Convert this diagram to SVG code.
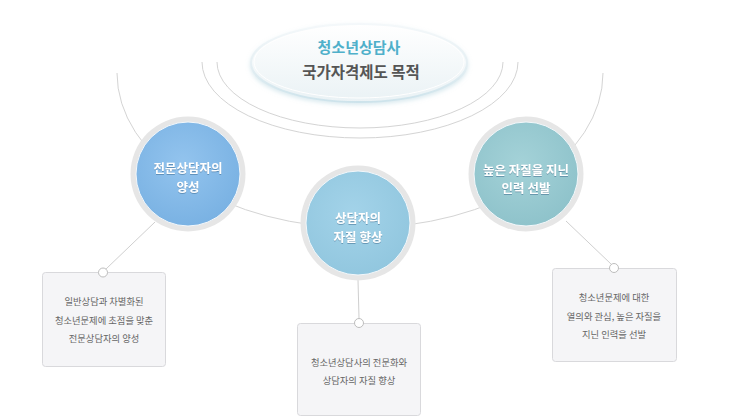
<svg xmlns="http://www.w3.org/2000/svg" width="755" height="417" viewBox="0 0 755 417">
<defs>
<style>
.arc{fill:none;stroke:#d4d4d4;stroke-width:1}
.ln{fill:none;stroke:#cfcfcf;stroke-width:1}
.dot{fill:#fff;stroke:#bdbdbd;stroke-width:1}
.ring{fill:#e6e6e6}
.box{fill:#f5f5f7;stroke:#d9d9dc;stroke-width:1}
.nt{font-family:"Noto Sans CJK KR","Noto Sans",sans-serif;font-size:12.5px;font-weight:bold;fill:#fff;text-anchor:middle;filter:url(#ts)}
.bt{font-family:"Noto Sans CJK KR","Noto Sans",sans-serif;font-size:9.3px;fill:#666;text-anchor:middle}
</style>
<linearGradient id="eg" x1="0" y1="0" x2="0" y2="1">
<stop offset="0" stop-color="#ffffff"/>
<stop offset="1" stop-color="#eaf2f5"/>
</linearGradient>
<linearGradient id="es1" x1="0" y1="0" x2="0" y2="1">
<stop offset="0" stop-color="#f4f8fa"/>
<stop offset="0.5" stop-color="#e6f0f4"/>
<stop offset="1" stop-color="#cde3eb"/>
</linearGradient>
<radialGradient id="g1" cx="0.45" cy="0.4" r="0.6">
<stop offset="0" stop-color="#93c4ee"/>
<stop offset="1" stop-color="#7ab2e3"/>
</radialGradient>
<radialGradient id="g2" cx="0.45" cy="0.4" r="0.6">
<stop offset="0" stop-color="#a3d3e9"/>
<stop offset="1" stop-color="#92c7df"/>
</radialGradient>
<radialGradient id="g3" cx="0.45" cy="0.4" r="0.6">
<stop offset="0" stop-color="#a4d2d8"/>
<stop offset="1" stop-color="#8fc3cb"/>
</radialGradient>
<filter id="ts" x="-10%" y="-30%" width="120%" height="160%">
<feDropShadow dx="0" dy="1" stdDeviation="0.6" flood-color="#2a5a80" flood-opacity="0.45"/>
</filter>
<filter id="es" x="-10%" y="-20%" width="120%" height="150%">
<feDropShadow dx="0" dy="2" stdDeviation="2" flood-color="#b5d5e0" flood-opacity="0.5"/>
</filter>
</defs>

<g id="connectors">
<path class="arc" d="M117,73 A243,155 0 0 0 603,73"/>
<path class="arc" d="M202,62 A158,76 0 0 0 518,62"/>
<path class="arc" d="M217,62 A143,66 0 0 0 503,62"/>
<line class="ln" x1="155" y1="222" x2="106" y2="269"/>
<line class="ln" x1="358" y1="280" x2="359" y2="318"/>
<line class="ln" x1="566" y1="221" x2="611" y2="264"/>
</g>

<g id="title">
<ellipse cx="359" cy="63" rx="108" ry="39" fill="url(#eg)" stroke="url(#es1)" stroke-width="2" filter="url(#es)"/>
<ellipse cx="359" cy="62" rx="105" ry="36" fill="none" stroke="#ffffff" stroke-width="1"/>
<text x="359" y="53" font-family="'Noto Sans CJK KR','Noto Sans',sans-serif" font-size="15px" font-weight="bold" fill="#4fb0ca" text-anchor="middle">청소년상담사</text>
<text x="361" y="78" font-family="'Noto Sans CJK KR','Noto Sans',sans-serif" font-size="15.5px" font-weight="bold" fill="#555" text-anchor="middle">국가자격제도 목적</text>
</g>

<g id="node1">
<circle class="ring" cx="188" cy="174" r="57.5"/>
<circle cx="188" cy="174" r="52" fill="url(#g1)" stroke="#f4f8fb" stroke-width="1"/>
<text class="nt" x="188" y="173">전문상담자의</text>
<text class="nt" x="188" y="192">양성</text>
</g>

<g id="node2">
<circle class="ring" cx="358" cy="223" r="57.5"/>
<circle cx="358" cy="223" r="52" fill="url(#g2)" stroke="#f4f8fb" stroke-width="1"/>
<text class="nt" x="358" y="223">상담자의</text>
<text class="nt" x="358" y="242">자질 향상</text>
</g>

<g id="node3">
<circle class="ring" cx="526" cy="174" r="57.5"/>
<circle cx="526" cy="174" r="52" fill="url(#g3)" stroke="#f4f8fb" stroke-width="1"/>
<text class="nt" x="526" y="175">높은 자질을 지닌</text>
<text class="nt" x="526" y="193">인력 선발</text>
</g>

<g id="box1">
<rect class="box" x="42.5" y="272.5" width="123" height="94" rx="3"/>
<circle class="dot" cx="103" cy="272.5" r="4.5"/>
<text class="bt" x="104" y="305">일반상담과 차별화된</text>
<text class="bt" x="104" y="324">청소년문제에 초점을 맞춘</text>
<text class="bt" x="104" y="342">전문상담자의 양성</text>
</g>

<g id="box2">
<rect class="box" x="297.5" y="323.5" width="123" height="92" rx="3"/>
<circle class="dot" cx="359" cy="323" r="4.5"/>
<text class="bt" x="359" y="366">청소년상담사의 전문화와</text>
<text class="bt" x="359" y="384">상담자의 자질 향상</text>
</g>

<g id="box3">
<rect class="box" x="552.5" y="268.5" width="124" height="93" rx="3"/>
<circle class="dot" cx="614" cy="268" r="4.5"/>
<text class="bt" x="614" y="301">청소년문제에 대한</text>
<text class="bt" x="614" y="320">열의와 관심, 높은 자질을</text>
<text class="bt" x="614" y="338">지닌 인력을 선발</text>
</g>
</svg>
